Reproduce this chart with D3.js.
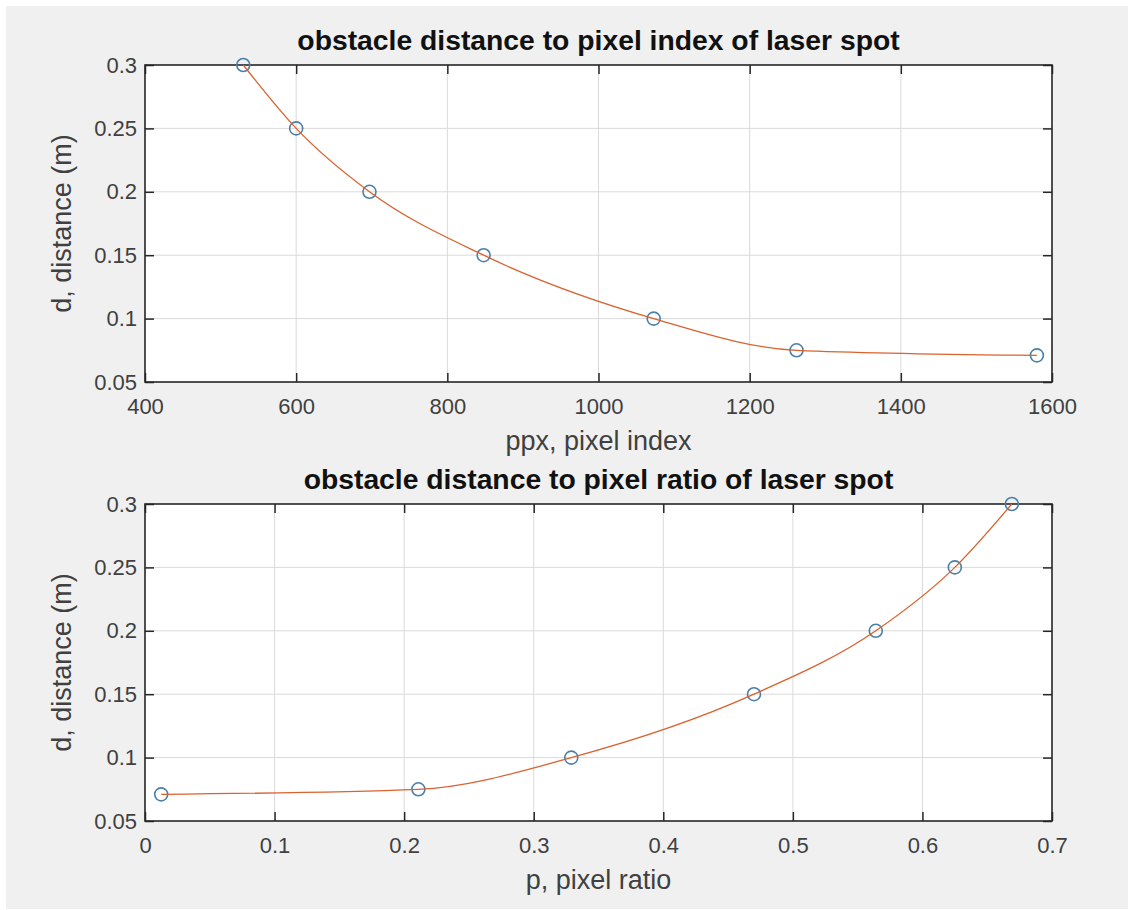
<!DOCTYPE html>
<html><head><meta charset="utf-8">
<script src="https://cdn.jsdelivr.net/npm/d3@7"></script>
<style>body{margin:0;background:#fff;} svg{display:block}</style>
</head><body><svg id="chart" width="1128" height="910"></svg>
<script>
// ---- data ----
const ppx = [530, 600, 697, 848, 1073, 1262, 1580];
const distance = [0.3, 0.25, 0.2, 0.15, 0.1, 0.075, 0.071];
const pixelRatio = [0.669, 0.625, 0.564, 0.47, 0.329, 0.211, 0.0125];
const distanceTicks = [0.05, 0.1, 0.15, 0.2, 0.25, 0.3];
const ppxTicks = [400, 600, 800, 1000, 1200, 1400, 1600];
const ratioTicks = [0, 0.1, 0.2, 0.3, 0.4, 0.5, 0.6, 0.7];
const titles = ["obstacle distance to pixel index of laser spot", "obstacle distance to pixel ratio of laser spot"];
const xLabels = ["ppx, pixel index", "p, pixel ratio"];
const yLabel = "d, distance (m)";

const svg = d3.select("#chart");
svg.append("rect").attr("x", 6).attr("y", 6).attr("width", 1122).attr("height", 903).attr("fill", "#f0f0f0");

const FONT = "'Liberation Sans', Arial, Helvetica, sans-serif";
const fmt = d => String(+d.toFixed(3));

function panel(top, xs, ys, xDomain, xTicks, title, xLabel) {
  const left = 145, right = 1052, bottom = top + 317;
  const x = d3.scaleLinear().domain(xDomain).range([left, right]);
  const y = d3.scaleLinear().domain([0.05, 0.3]).range([bottom, top]);
  const g = svg.append("g");
  g.append("rect").attr("x", left).attr("y", top).attr("width", right - left).attr("height", bottom - top).attr("fill", "#fff");
  // grid
  g.append("g").selectAll("line").data(xTicks.slice(1, -1)).join("line")
    .attr("x1", d => x(d)).attr("x2", d => x(d)).attr("y1", top).attr("y2", bottom)
    .attr("stroke", "#dadada").attr("stroke-width", 1);
  g.append("g").selectAll("line").data(distanceTicks.slice(1, -1)).join("line")
    .attr("y1", d => y(d)).attr("y2", d => y(d)).attr("x1", left).attr("x2", right)
    .attr("stroke", "#dadada").attr("stroke-width", 1);
  // axes with inward ticks
  const tl = 9;
  const xb = g.append("g").attr("transform", `translate(0,${bottom})`)
    .call(d3.axisBottom(x).tickValues(xTicks).tickFormat(fmt).tickSize(-tl));
  const xt = g.append("g").attr("transform", `translate(0,${top})`)
    .call(d3.axisTop(x).tickValues(xTicks).tickFormat("").tickSize(-tl));
  const yl = g.append("g").attr("transform", `translate(${left},0)`)
    .call(d3.axisLeft(y).tickValues(distanceTicks).tickFormat(fmt).tickSize(-tl).tickPadding(8));
  const yr = g.append("g").attr("transform", `translate(${right},0)`)
    .call(d3.axisRight(y).tickValues(distanceTicks).tickFormat("").tickSize(-tl));
  [xb, xt, yl, yr].forEach(a => {
    a.select(".domain").remove();
    a.selectAll(".tick line").attr("stroke", "#262626").attr("stroke-width", 1.5);
    a.selectAll(".tick text").attr("fill", "#404040").style("font-family", FONT).style("font-size", "22px");
  });
  xb.selectAll(".tick text").attr("dy", "0.71em").attr("y", 16);
  // box
  g.append("rect").attr("x", left).attr("y", top).attr("width", right - left).attr("height", bottom - top)
    .attr("fill", "none").attr("stroke", "#262626").attr("stroke-width", 1.6);
  // data
  const pts = xs.map((v, i) => [v, ys[i]]).sort((a, b) => a[0] - b[0]);
  g.append("g").selectAll("circle").data(pts).join("circle")
    .attr("cx", d => x(d[0])).attr("cy", d => y(d[1])).attr("r", 6.5)
    .attr("fill", "none").attr("stroke", "#4a80a8").attr("stroke-width", 1.6);
  const line = d3.line().x(d => x(d[0])).y(d => y(d[1])).curve(d3.curveMonotoneX);
  g.append("path").attr("d", line(pts)).attr("fill", "none").attr("stroke", "#d9622e").attr("stroke-width", 1.3);
  // texts
  g.append("text").attr("x", (left + right) / 2).attr("y", top - 15).attr("text-anchor", "middle")
    .style("font-family", FONT).style("font-size", "28.3px").style("font-weight", "bold").attr("fill", "#111").text(title);
  g.append("text").attr("x", (left + right) / 2).attr("y", bottom + 68).attr("text-anchor", "middle")
    .style("font-family", FONT).style("font-size", "27px").attr("fill", "#404040").text(xLabel);
  g.append("text").attr("transform", `translate(71,${(top + bottom) / 2}) rotate(-90)`).attr("text-anchor", "middle")
    .style("font-family", FONT).style("font-size", "27px").attr("fill", "#404040").text(yLabel);
}

panel(65, ppx, distance, [400, 1600], ppxTicks, titles[0], xLabels[0]);
panel(504, pixelRatio, distance, [0, 0.7], ratioTicks, titles[1], xLabels[1]);
</script></body></html>
